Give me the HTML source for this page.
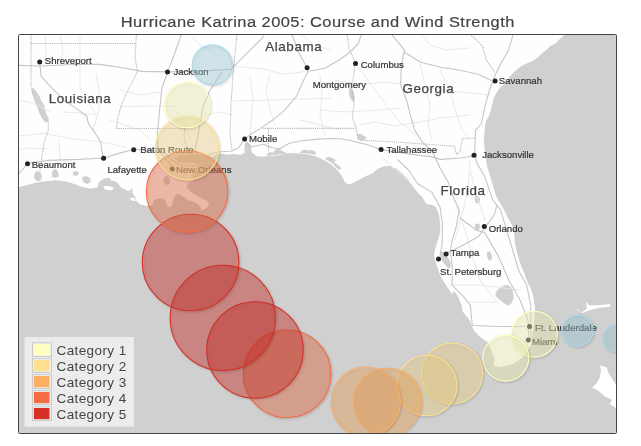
<!DOCTYPE html><html><head><meta charset="utf-8"><style>
html,body{margin:0;padding:0;background:#fff;width:641px;height:446px;overflow:hidden;}
svg{position:absolute;left:0;top:0;font-family:"Liberation Sans",sans-serif;will-change:transform;}
</style></head><body>
<svg width="641" height="446" viewBox="0 0 641 446">
<defs><clipPath id="mc"><rect x="19" y="35" width="597" height="398"/></clipPath><filter id="sh" x="-30%" y="-30%" width="160%" height="160%" color-interpolation-filters="sRGB"><feDropShadow dx="1" dy="1" stdDeviation="1" flood-color="#000" flood-opacity="0.22"/></filter></defs>
<text x="299.8" y="26.7" text-anchor="middle" font-size="15.5" letter-spacing="0.44" fill="#444" stroke="#444" stroke-width="0.2" transform="scale(1.06,1)" id="title">Hurricane Katrina 2005: Course and Wind Strength</text>
<g clip-path="url(#mc)">
<rect x="19" y="35" width="597" height="398" fill="#d0d0d0"/>
<path d="M565,34 L562,37 L559.3,39.6 L555.6,43.4 L552,45 L550,46.2 L546.2,49.9 L541.5,53.7 L538.7,56.5 L534,60.2 L527.5,63 L521.9,65.8 L518,68.5 L513,73 L509.5,77 L506,82 L503,85.6 L499.5,88.2 L496.4,92.9 L493.2,99.2 L491.7,107 L489.3,114.9 L488.4,117 L486.2,120.6 L485,126 L484.5,131.8 L484,137 L483.9,143 L484.5,148.6 L485.6,157.6 L486.7,165 L488,169 L490.7,178 L493.4,187 L496,196 L499,201 L503.5,209 L508,218 L512,225 L514.2,234 L514.8,242.6 L517,252.6 L520,262.7 L524,272.7 L527,281 L529.2,285.4 L531.9,291.7 L533.7,297.9 L534.6,305.1 L535,311.4 L534.3,320 L533,330 L532,340 L530.5,346 L527,351.5 L523.8,355.6 L519.8,359.6 L515.8,362.3 L510.4,365 L505,365.7 L501,367 L494.2,366.3 L493.6,362.3 L494.9,358.9 L492.9,354.2 L490.2,347.5 L487.5,342.1 L485,340.4 L479,336 L474.5,331 L471.5,325 L469.5,320 L467.6,317.7 L462.6,311.4 L457.6,302.6 L452.6,295 L447.5,287.5 L444,282 L442.2,279 L440,275 L437.6,267.7 L435,260 L433.8,255 L436.3,245 L438.8,237.5 L440.5,230 L440,222.7 L439,215 L436.4,207.6 L432.6,205 L426.3,203.9 L422.6,197.6 L417.5,192.6 L413.8,187.5 L409,181.4 L402.8,173.9 L396.5,168.8 L390,166 L384,166.3 L377.7,168.8 L372.7,173.2 L365,176.4 L358.8,180 L351,184 L347.5,184 L345,182.3 L341.4,175.3 L336.4,169.2 L330.3,163.7 L324.3,160.2 L316.2,156.6 L308.1,154.6 L300,153.6 L290,153.1 L282,154.5 L270,156.3 L265,156.3 L261.8,156.7 L256.3,156 L251.7,152 L250.9,145 L248,142.5 L246,142.5 L244.6,144.2 L244.6,152.8 L240.7,154.8 L234.5,154 L226.7,154.8 L218.9,153 L212,157 L205,161 L199,165 L195,170 L192,176 L194,180 L192.8,181.3 L187.7,183.8 L186.5,187.5 L190.3,191.3 L195.3,195.1 L202.8,198.8 L207.8,201.4 L209.1,205.1 L205.3,208.9 L201.6,210.2 L200.3,206.4 L195.3,202.6 L187.7,200.1 L182.7,196.3 L177.7,193.8 L174,196.3 L173.3,201.4 L171.4,206.4 L167.6,207.6 L166.4,202.6 L163.9,198.8 L158.8,198.2 L153.8,200 L152.6,205 L147.8,206 L145,205.6 L140,204.2 L136.5,201.2 L135.6,197.5 L132.8,193.7 L132.3,190 L131.8,187.2 L130.9,190 L128.1,190.9 L124.3,189 L121.5,188.1 L118.7,184.4 L116.9,182 L111.2,180.6 L109.4,177.8 L103.7,178.7 L99,182 L97.5,187.6 L90,188.8 L80.8,186.4 L74.5,183.9 L65.7,181.4 L55.7,180.3 L43,181.4 L36.8,182.4 L30.6,183.9 L19.3,187 L15,188 L15,30 Z" fill="#fefefe"/>
<path d="M31.2,87.5 L34,88.5 L36,91 L38.2,94.5 L40,97 L41,100.5 L43.5,104 L44.5,107 L45.5,111 L46.5,114.6 L48.5,117.5 L48.8,121 L46.2,122.7 L43.5,120.5 L42,118 L40,114.6 L38.5,111 L37.5,108 L36,104.5 L34.8,101.5 L33.6,98 L32.5,95 L31.4,91.5 Z" fill="#d0d0d0"/>
<path d="M35,172 L38,171 L41,173 L42,177 L40,181 L36,181 L34,177 Z" fill="#d0d0d0"/>
<path d="M53,170 L56,169 L58,172 L59,176 L56,178 L52,177 L52,173 Z" fill="#d0d0d0"/>
<path d="M73,172 L77,171 L79,174 L76,176 L73,175 Z" fill="#d0d0d0"/>
<path d="M82,177 L86,176 L90,178 L91,182 L87,184 L83,182 Z" fill="#d0d0d0"/>
<path d="M164,177 L168,176 L170,179 L169.5,184 L166,185 L163.5,182 Z" fill="#d0d0d0"/>
<path d="M174,158 L180,155 L190,154.5 L200,155 L208,156 L213,158 L208,162 L198,163 L188,163 L178,162 Z" fill="#d0d0d0"/>
<path d="M266,154.8 L269,152.5 L270.5,151.4 L272.5,153 L275,150 L277.5,148.1 L280,149 L281.5,150.5 L284,152 L287,153 L285,154 L280,154.3 L274,155 L268,156 Z" fill="#d0d0d0"/>
<path d="M300,152.2 L302,150.5 L305,149.6 L308,150.5 L311,150 L314,150.8 L316,152.8 L315.5,155 L312,154.3 L308,153.6 L304,153.2 L300,153 Z" fill="#d0d0d0"/>
<path d="M325.3,158 L328,157 L331,157.5 L334,158.8 L336,160.5 L334,162 L337,164.5 L340,166.5 L341.4,169 L339,169.5 L336,167.5 L333,164 L329.5,161.5 L326.5,160 Z" fill="#d0d0d0"/>
<path d="M357,134 L361,134 L364,136 L367,138 L363,140.5 L358,140 Z" fill="#d0d0d0"/>
<path d="M349,88 L352,89 L354,93 L355,99 L353,102 L350,98 L349,93 Z" fill="#d0d0d0"/>
<path d="M440,251 L444,252 L447,256 L450,261 L451,266 L449,269 L445,265 L442,261 L440,256 Z" fill="#d0d0d0"/>
<path d="M452.5,291 L456,293 L459,299 L462,306 L462.5,313 L459,312 L456,305 L453,298 Z" fill="#d0d0d0"/>
<path d="M495.3,294.4 L497,290 L500.3,287.5 L504,285.5 L507.8,285 L511,287 L512.9,291.3 L513.6,295.5 L513.3,299.5 L511.5,303 L509,305.7 L506,304.5 L502,302 L499,299.5 L496.5,297 Z" fill="#d0d0d0"/>
<path d="M475,196 L478,196 L480,199 L479.5,203 L476,203.5 L474.8,200 Z" fill="#d0d0d0"/>
<path d="M475,224 L479,223.5 L480.5,227 L478,230.5 L474.8,229 Z" fill="#d0d0d0"/>
<path d="M487,252 L490,251.5 L492,255 L491.7,260 L488.5,260.5 L487,256 Z" fill="#d0d0d0"/>
<path d="M103.7,186.5 L107,185.8 L111,186.5 L114,188 L112,190.4 L107,190 L104,189 Z" fill="#fff"/>
<path d="M129.5,198.5 L132,197.5 L135.2,198.5 L135.6,201 L132,200.8 Z" fill="#fff"/>
<path d="M573.5,307.5 L578,309.5 L581.5,312.2 L585,310 L587,308.5 L586,302 L589.6,305.5 L600.4,305 L606,304.5 L610.5,304 L610,306.8 L600.4,307.8 L592,309.5 L586,311.5 L582.5,313 Z" fill="#fff"/>
<path d="M600,365.4 L606.7,367.4 L608.6,373.2 L615.4,383.8 L620,390 L620,420 L616,417.6 L616,408 L609.6,404 L612,400 L604.7,396.3 L598,390.5 L592.2,387.6 L597,382.8 L600,377 L601,369.3 Z" fill="#fff"/>
<g fill="none" stroke="#e6e6e6" stroke-width="0.9" stroke-linejoin="round" stroke-linecap="round">
<path d="M45,34 L46,50 L45,62"/>
<path d="M80,34 L80,64 L80,88 L96,114"/>
<path d="M96,74 L99,90 L99,109 L93,131"/>
<path d="M63.7,112 L80,113 L96,114.6"/>
<path d="M18,136 L45,133.5 L71.8,138.8 L98.6,141.5 L125.5,147"/>
<path d="M120,106.6 L150,106 L176,106.6"/>
<path d="M60,34 L63,50 L61,62"/>
<path d="M18,100 L35,104 L50,112"/>
<path d="M18,150 L30,148 L48,149"/>
<path d="M59,140 L60,160"/>
<path d="M234.5,66.3 L264,69 L283,74.3 L304.4,71.6"/>
<path d="M250,77 L253,100 L251,120 L250,139"/>
<path d="M232,101 L270,100 L300,99 L331,98.5"/>
<path d="M270,75 L266,90 L270,110 L275,125"/>
<path d="M320,75 L322,95 L320,115 L325,135"/>
<path d="M335,80 L360,85 L385,82 L400,84"/>
<path d="M357.6,66.3 L373.8,87.8 L387,106.6 L400.6,122.7 L416.8,136"/>
<path d="M320,110 L345,112 L380,110 L400,108"/>
<path d="M360,125 L375,122 L395,126 L420,122 L440,118 L470,115"/>
<path d="M420,63 L425,85 L430,105 L428,125 L432,140"/>
<path d="M440,70 L450,90 L455,110 L462,130 L470,140"/>
<path d="M300,34 L315,45 L330,50"/>
<path d="M190,34 L200,45 L212,50"/>
<path d="M420,34 L430,45 L445,50 L470,48"/>
<path d="M400,84 L430,88 L460,92 L490,95"/>
<path d="M455,200 L465,230 L472,255 L480,280 L495,300"/>
<path d="M470,160 L468,190 L462,215 L455,240"/>
<path d="M450,285 L480,285 L520,290"/>
<path d="M470,170 L478,200 L485,220"/>
<path d="M470.3,302.3 L485,302 L498.5,302.3"/>
<path d="M380,155 L395,170 L410,180"/>
<path d="M300,120 L320,125 L340,130"/>
<path d="M120,90 L140,95 L160,92"/>
<path d="M110,120 L125,125 L140,130 L150,140"/>
<path d="M175,110 L185,125 L190,140"/>
<path d="M205,115 L220,112 L232,115"/>
</g>
<g fill="none" stroke="#c6c6c6" stroke-width="1.1" stroke-linejoin="round" stroke-linecap="round">
<path d="M15,65.3 L40,66 L78.5,64.3 L100,64.4 L123.4,68 L142.1,71.4 L167.9,71.9 L198.3,71.4 L231,69.1 L242.1,58.2 L252.2,48.1 L262.3,38 L265.3,33"/>
<path d="M40,66.3 L41.2,76.4 L50.3,86.4 L64.4,100.6 L76.5,108.6 L86.6,116 L88.6,124.1 L94.6,132.2 L100.7,142.3 L102.7,156.4 L103.6,158.2"/>
<path d="M15,178 L22,170 L27.7,163.4 L48.3,160.4 L78.5,159.4 L103.7,158 L118.8,153.4 L133,149.5 L150,150 L165,153 L172,160 L180,165 L195,166 L205,158 L212,153.5 L219.7,151.7 L230.6,151.3 L238.4,148.1 L244.2,139.5"/>
<path d="M244.2,139.5 L251,147 L263.5,144.2 L272.4,147.8 L279.6,148.7 L290,143 L300,141 L315,139.4 L330,138.5 L340,138.8 L350.2,140.5 L366.3,144.5 L381.4,149.6 L400.6,152.6 L420.8,155.6 L430.3,156.4 L440.3,159.4 L460.5,158 L473.6,156"/>
<path d="M181.9,33 L174.9,52.7 L167.9,71.4 L162,87.8 L159.7,108.9 L157.3,134 L158,150 L165,158 L172,166"/>
<path d="M221.7,72.6 L210,90.2 L203,106.5 L198.3,134 L195,150 L200,163"/>
<path d="M291.5,33 L298.6,52.2 L306.6,67.3 L307.7,72.3 L303.7,80 L296.6,96.1 L284.5,110.3 L272.4,120.3 L260.3,128.4 L250.3,134.5 L245.2,138.5"/>
<path d="M308.7,71.3 L324.8,68.3 L338.9,60.2 L350,52.2 L358,44 L362,33"/>
<path d="M390.4,33 L404.5,50.1 L401.5,64.3 L400.5,84.4 L402.6,90 L406.6,100.2 L410.7,116.3 L414.7,130.4 L422.8,142.5 L432.9,152.6 L440.3,168.5 L448.4,182.6 L454.5,200 L459.3,210.2 L456.3,226.3 L452.3,240.4 L450.3,250.5 L452.3,266.6 L452.1,285.2 L464.2,297.3 L470.3,305.3 L472.3,325.5 L500.5,326.5 L524.7,326.5"/>
<path d="M404.5,52.2 L420.7,62.2 L440.8,67.3 L460.2,70.3 L478.3,74.3 L491.4,80.4"/>
<path d="M513.6,33 L508.6,50.1 L500.5,64.3 L494.5,76.4 L489.4,90.5 L485.4,104.6 L481.3,124 L475.6,130.2 L474.6,150.3 L476.6,162.4 L484.7,176.6 L492.8,200 L500.7,210.2 L506.7,230.3 L512.8,250.5 L518.8,270.7 L526.7,285.2 L530.8,305.3 L530.8,340"/>
<path d="M398,160 L408.5,170 L417.4,183.5 L432,192.4 L440,207 L442.5,225 L442,245 L440,255"/>
<path d="M446,254 L448.2,252.5 L464.4,244.5 L478.5,236.4 L484.5,228.3 L494.6,214.2 L496.6,206.1"/>
<path d="M460.3,218.2 L476.5,230.3 L484.5,232.4 L498.7,256.6 L508.7,280 L520,300 L528,320 L529,340"/>
<path d="M523,361.5 L518,368 L511,376 L501,381.5 L490,385 L481,387.2" fill="none" stroke="#c8c8c8" stroke-width="0.6"/>
</g>
<g fill="none" stroke="#b4b4b4" stroke-width="1.1" stroke-dasharray="1.1 1">
<path d="M31,35 L31,87"/>
<path d="M48.3,122.1 L48.3,130.2 L44.2,142.3 L42.2,154.4 L41.2,162.4 L40,171"/>
<path d="M31,43.5 L135,43.5"/>
<path d="M136.3,35 L135.1,57.4 L137.4,71.4 L132.8,80.8 L125.7,94.8 L121,106.5 L117.6,118.2 L116.6,128.5"/>
<path d="M116.6,128.5 L160,128.5 L185,128.5"/>
<path d="M185,128.5 L184,135 L185,142 L188,150 L192,156"/>
<path d="M236.9,35 L233.4,69.1 L231,104.2 L230,134 L232,149.6"/>
<path d="M262.4,128.4 L300,128.4 L355.2,128.4"/>
<path d="M268.4,128.4 L268.4,150.6"/>
<path d="M347,35 L349,48 L355,62 L354,74.3 L351,86.4 L352.2,90.1 L354.2,104.2 L352.2,116.3 L356.2,128.4 L358.2,138.5"/>
<path d="M360.3,140.1 L400,142.3 L454.5,146.3 L456.5,154.4 L460,152 L462.5,138.2 L474.6,138.2"/>
<path d="M471.3,35 L482.4,46.1 L486.4,60.2 L494.5,72.3"/>
</g>
<g font-size="13.4" letter-spacing="0.6" fill="#444" stroke="#444" stroke-width="0.25">
<text x="48.7" y="102.6">Louisiana</text>
<text x="265.2" y="51.1">Alabama</text>
<text x="402.4" y="93">Georgia</text>
<text x="440.5" y="195.2">Florida</text>
</g>
<g font-size="9.6" fill="#333">
<circle cx="39.7" cy="62" r="2.5" fill="#222"/>
<text x="44.8" y="64.4" stroke="#333" stroke-width="0.2">Shreveport</text>
<circle cx="167.5" cy="71.9" r="2.5" fill="#222"/>
<text x="173.4" y="74.9" stroke="#333" stroke-width="0.2">Jackson</text>
<circle cx="307.1" cy="67.7" r="2.5" fill="#222"/>
<circle cx="355.5" cy="63.5" r="2.5" fill="#222"/>
<text x="360.7" y="68.4" stroke="#333" stroke-width="0.2">Columbus</text>
<circle cx="495.1" cy="80.9" r="2.5" fill="#222"/>
<text x="498.8" y="84.3" stroke="#333" stroke-width="0.2">Savannah</text>
<circle cx="133.7" cy="149.7" r="2.5" fill="#222"/>
<text x="140.3" y="152.9" stroke="#333" stroke-width="0.2">Baton Route</text>
<circle cx="244.6" cy="139" r="2.5" fill="#222"/>
<text x="249" y="141.7" stroke="#333" stroke-width="0.2">Mobile</text>
<circle cx="381.1" cy="149.4" r="2.5" fill="#222"/>
<text x="386.4" y="153.1" stroke="#333" stroke-width="0.2">Tallahassee</text>
<circle cx="474" cy="155.2" r="2.5" fill="#222"/>
<text x="482.2" y="158.4" stroke="#333" stroke-width="0.2">Jacksonville</text>
<circle cx="27.5" cy="163.7" r="2.5" fill="#222"/>
<text x="31.7" y="167.7" stroke="#333" stroke-width="0.2">Beaumont</text>
<circle cx="103.6" cy="158.2" r="2.5" fill="#222"/>
<circle cx="172.3" cy="168.9" r="2.5" fill="#222"/>
<text x="176" y="172.8" stroke="#333" stroke-width="0.2">New Orleans</text>
<circle cx="484.3" cy="226.6" r="2.5" fill="#222"/>
<text x="488.7" y="231.6" stroke="#333" stroke-width="0.2">Orlando</text>
<circle cx="446.1" cy="254" r="2.5" fill="#222"/>
<text x="450.6" y="255.6" stroke="#333" stroke-width="0.2">Tampa</text>
<circle cx="438.5" cy="258.9" r="2.5" fill="#222"/>
<circle cx="529.5" cy="326.5" r="2.5" fill="#222"/>
<text x="535" y="331" stroke="#333" stroke-width="0.2">Ft. Lauderdale</text>
<circle cx="528.2" cy="340" r="2.5" fill="#222"/>
<text x="531.9" y="344.5" stroke="#333" stroke-width="0.2">Miami</text>
<text x="312.7" y="87.8" stroke="#333" stroke-width="0.2">Montgomery</text>
<text x="107.4" y="173.2" stroke="#333" stroke-width="0.2">Lafayette</text>
<text x="440.1" y="275.3" stroke="#333" stroke-width="0.2">St. Petersburg</text>
</g>
<circle cx="616.8" cy="338.1" r="13.9" fill="#abd9e9" fill-opacity="0.4" stroke="#abd9e9" stroke-width="1.1" filter="url(#sh)"/>
<circle cx="577.5" cy="330.7" r="15.6" fill="#abd9e9" fill-opacity="0.4" stroke="#abd9e9" stroke-width="1.1" filter="url(#sh)"/>
<circle cx="534.4" cy="334.2" r="23" fill="#ffffbf" fill-opacity="0.4" stroke="#ffffbf" stroke-width="1.1" filter="url(#sh)"/>
<circle cx="505.8" cy="358.1" r="23" fill="#ffffbf" fill-opacity="0.4" stroke="#ffffbf" stroke-width="1.1" filter="url(#sh)"/>
<circle cx="452.1" cy="373.5" r="30.5" fill="#fee090" fill-opacity="0.4" stroke="#fee090" stroke-width="1.1" filter="url(#sh)"/>
<circle cx="426.7" cy="385.5" r="30.3" fill="#fee090" fill-opacity="0.4" stroke="#fee090" stroke-width="1.1" filter="url(#sh)"/>
<circle cx="387.7" cy="401.7" r="33.5" fill="#fdae61" fill-opacity="0.4" stroke="#fdae61" stroke-width="1.1" filter="url(#sh)"/>
<circle cx="365.8" cy="401.6" r="34.6" fill="#fdae61" fill-opacity="0.4" stroke="#fdae61" stroke-width="1.1" filter="url(#sh)"/>
<circle cx="287.1" cy="373.9" r="43.9" fill="#f46d43" fill-opacity="0.4" stroke="#f46d43" stroke-width="1.1" filter="url(#sh)"/>
<circle cx="255" cy="350" r="48.2" fill="#d73027" fill-opacity="0.4" stroke="#d73027" stroke-width="1.1" filter="url(#sh)"/>
<circle cx="222.8" cy="317.9" r="52.6" fill="#d73027" fill-opacity="0.4" stroke="#d73027" stroke-width="1.1" filter="url(#sh)"/>
<circle cx="190.6" cy="262.5" r="48.3" fill="#d73027" fill-opacity="0.4" stroke="#d73027" stroke-width="1.1" filter="url(#sh)"/>
<circle cx="187.1" cy="191.6" r="40.8" fill="#f46d43" fill-opacity="0.4" stroke="#f46d43" stroke-width="1.1" filter="url(#sh)"/>
<circle cx="187.2" cy="148.2" r="31.7" fill="#fee090" fill-opacity="0.4" stroke="#fee090" stroke-width="1.1" filter="url(#sh)"/>
<circle cx="187.2" cy="105" r="22.7" fill="#ffffbf" fill-opacity="0.4" stroke="#ffffbf" stroke-width="1.1" filter="url(#sh)"/>
<circle cx="212.2" cy="65" r="19.9" fill="#abd9e9" fill-opacity="0.4" stroke="#abd9e9" stroke-width="1.1" filter="url(#sh)"/>
<rect x="24.5" y="337" width="109.5" height="89.7" fill="#ececec"/>
<rect x="32.5" y="342.7" width="19" height="13.8" fill="#f0f0f0" stroke="#cacaca" stroke-width="1"/>
<rect x="33.9" y="344.0" width="15.6" height="11.2" fill="#ffffbf"/>
<text x="56.5" y="355.2" font-size="13.5" letter-spacing="0.4" fill="#444">Category 1</text>
<rect x="32.5" y="358.7" width="19" height="13.8" fill="#f0f0f0" stroke="#cacaca" stroke-width="1"/>
<rect x="33.9" y="360.0" width="15.6" height="11.2" fill="#fee090"/>
<text x="56.5" y="371.2" font-size="13.5" letter-spacing="0.4" fill="#444">Category 2</text>
<rect x="32.5" y="374.7" width="19" height="13.8" fill="#f0f0f0" stroke="#cacaca" stroke-width="1"/>
<rect x="33.9" y="376.0" width="15.6" height="11.2" fill="#fdae61"/>
<text x="56.5" y="387.2" font-size="13.5" letter-spacing="0.4" fill="#444">Category 3</text>
<rect x="32.5" y="390.7" width="19" height="13.8" fill="#f0f0f0" stroke="#cacaca" stroke-width="1"/>
<rect x="33.9" y="392.0" width="15.6" height="11.2" fill="#f46d43"/>
<text x="56.5" y="403.2" font-size="13.5" letter-spacing="0.4" fill="#444">Category 4</text>
<rect x="32.5" y="406.7" width="19" height="13.8" fill="#f0f0f0" stroke="#cacaca" stroke-width="1"/>
<rect x="33.9" y="408.0" width="15.6" height="11.2" fill="#d73027"/>
<text x="56.5" y="419.2" font-size="13.5" letter-spacing="0.4" fill="#444">Category 5</text>
</g>
<rect x="18.5" y="34.5" width="598" height="399" fill="none" stroke="#444" stroke-width="1" rx="1"/>
</svg></body></html>
